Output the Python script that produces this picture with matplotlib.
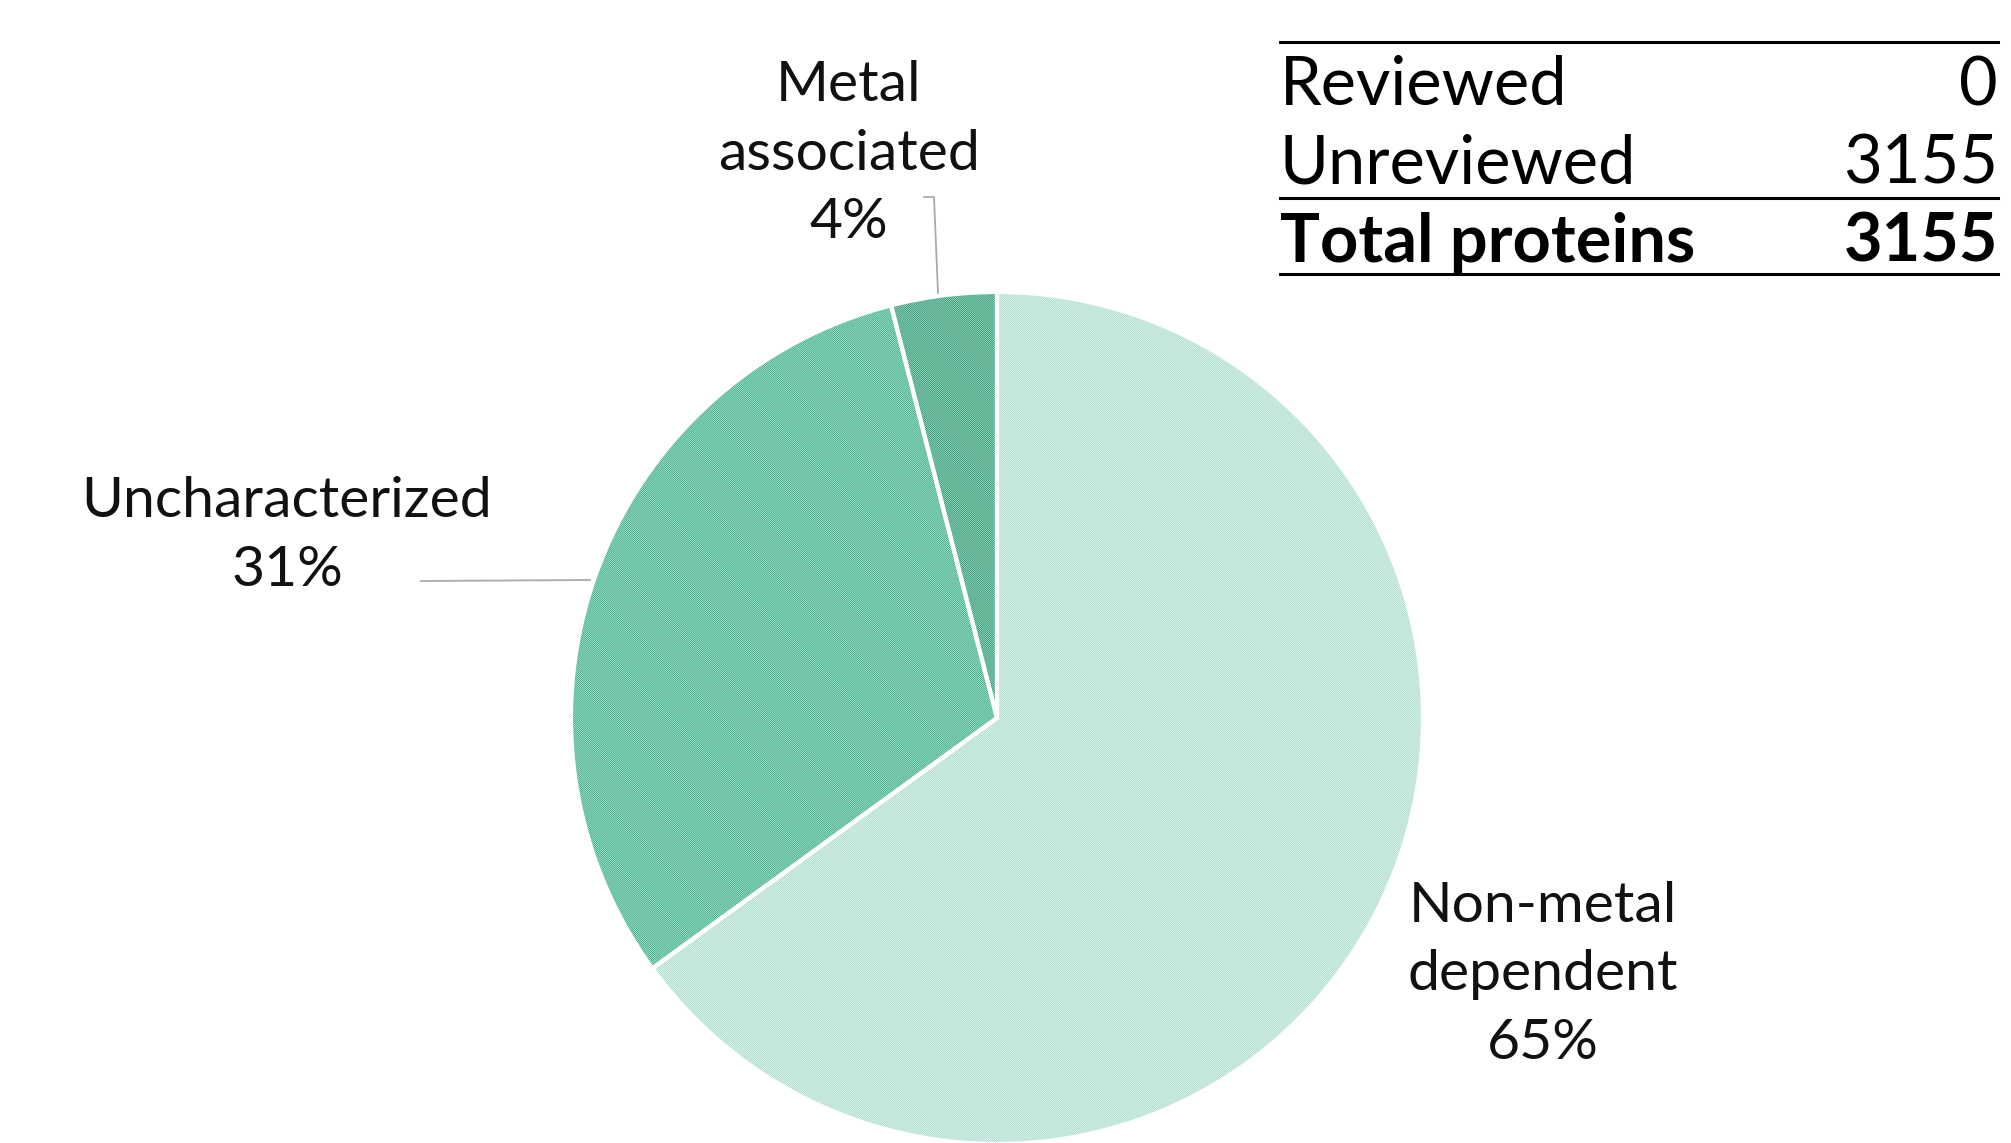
import matplotlib.pyplot as plt

plt.rcParams['font.family'] = ['Lato', 'DejaVu Sans']
plt.rcParams['hatch.linewidth'] = 0.55

# slice shares (percent) and labels
categories = ['Non-metal\ndependent', 'Uncharacterized', 'Metal\nassociated']
shares = [65, 31, 4]

# summary table
table_rows = ['Reviewed', 'Unreviewed', 'Total proteins']
table_vals = [0, 3155, 3155]

face_colors = ['#eff9f5', '#cdeee1', '#bde3d4']
hatch_colors = ['#a3dac6', '#2aa77b', '#23946b']

W, H = 2011, 1143
fig = plt.figure(figsize=(W / 100, H / 100), dpi=100)
ax = fig.add_axes([0, 0, 1, 1])
ax.set_xlim(0, W)
ax.set_ylim(0, H)
ax.set_aspect('equal')
ax.axis('off')

cx, cy, r = 997, H - 718, 426

# hatched fill, hatch color comes from the edge color
wedges, _ = ax.pie(shares, startangle=90, counterclock=False,
                   center=(cx, cy), radius=r, frame=True)
for w, fc, hc in zip(wedges, face_colors, hatch_colors):
    w.set_facecolor(fc)
    w.set_edgecolor(hc)
    w.set_linewidth(0)
    w.set_hatch('\\' * 17)

# white separators on top
ax.pie(shares, startangle=90, counterclock=False, center=(cx, cy), radius=r,
       frame=True, wedgeprops=dict(facecolor='none', edgecolor='white', linewidth=3))
ax.set_xlim(0, W)
ax.set_ylim(0, H)
ax.axis('off')

fs = 41
ls = 1.42
ax.text(1543, H - 975, f'{categories[0]}\n{shares[0]}%', ha='center', va='center',
        fontsize=fs, linespacing=ls, color='#111111')
ax.text(287, H - 536, f'{categories[1]}\n{shares[1]}%', ha='center', va='center',
        fontsize=fs, linespacing=ls, color='#111111')
ax.text(849, H - 154, f'{categories[2]}\n{shares[2]}%', ha='center', va='center',
        fontsize=fs, linespacing=ls, color='#111111')

# leader lines
ax.plot([421, 590], [H - 581, H - 580], color='#aaaaaa', lw=1.3)
ax.plot([924, 934, 938], [H - 197, H - 197, H - 293], color='#aaaaaa', lw=1.3)

# table
x0, x1 = 1280, 1998
row_y = [86, 164, 243]
tfs = 48
for i, (name, val) in enumerate(zip(table_rows, table_vals)):
    weight = 'bold' if i == 2 else 'normal'
    ax.text(x0, H - row_y[i], name, ha='left', va='center', fontsize=tfs,
            fontweight=weight, color='black')
    ax.text(x1, H - row_y[i], str(val), ha='right', va='center', fontsize=tfs,
            fontweight=weight, color='black')
for y in [42, 198, 274]:
    ax.plot([x0, x1], [H - y, H - y], color='black', lw=2.2)

fig.savefig('out.png', dpi=100, facecolor='white')
